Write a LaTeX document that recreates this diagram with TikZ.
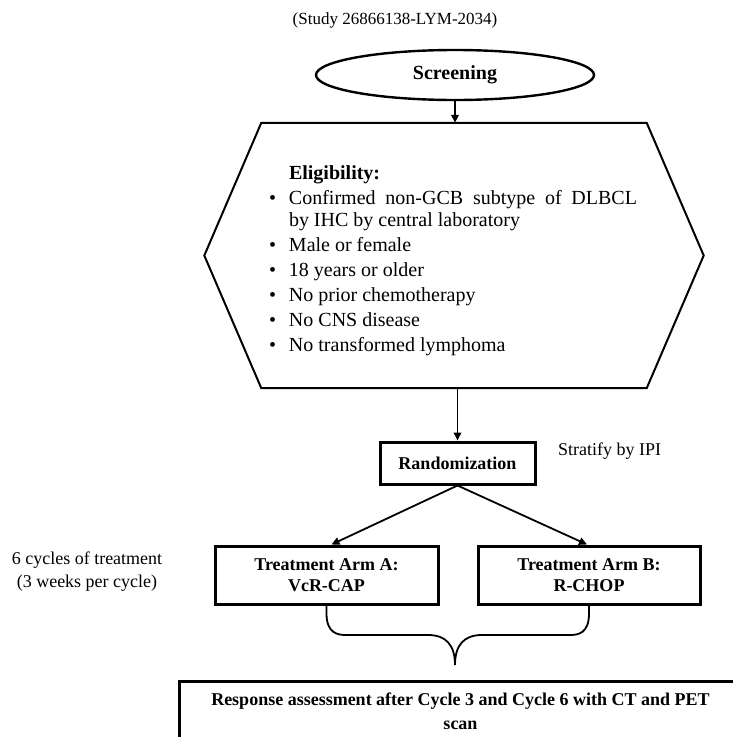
\documentclass[tikz,border=0pt]{standalone}
\usepackage{fontspec}
\setmainfont{Liberation Serif}
\usepackage{tikz}
\usetikzlibrary{positioning,arrows.meta,calc,shapes.geometric}
\newcommand{\eligitem}[1]{\par\noindent\hangindent=18pt\hangafter=1\makebox[18pt][l]{\hspace{-2pt}\textbullet}#1}

\begin{document}
\begin{tikzpicture}[x=1pt,y=-1pt,
  box/.style={draw,line width=3pt,inner sep=0pt,align=center,font=\fontsize{18}{21.5}\selectfont\bfseries},
  flow/.style={line width=1.8pt,-{Triangle[length=8pt,width=7.5pt]}},
  note/.style={inner sep=0pt,align=center,font=\fontsize{18}{23}\selectfont}]
\useasboundingbox (0,0) rectangle (732,737);
\node[inner sep=0pt,font=\fontsize{17}{20}\selectfont] (title) at (395,20) {(Study 26866138-LYM-2034)};
\node[ellipse,draw,line width=2.4pt,inner sep=0pt,minimum width=278pt,minimum height=50pt,font=\fontsize{20}{24}\selectfont\bfseries] (screen) at (455,75) {Screening};
\node[inner sep=0pt,minimum width=385pt,minimum height=265pt,text width=366pt,align=justify,font=\fontsize{20}{22}\selectfont] (elig) at (454,255.5) {%
  \setlength{\parskip}{3pt}%
  \hspace*{18pt}\rule{0pt}{24pt}\textbf{Eligibility:}
  \eligitem{Confirmed non-GCB subtype of DLBCL\linebreak by IHC by central laboratory}
  \eligitem{Male or female}
  \eligitem{18 years or older}
  \eligitem{No prior chemotherapy}
  \eligitem{No CNS disease}
  \eligitem{No transformed lymphoma}};
\draw[line width=2pt,line join=miter] (elig.north west) -- (elig.north east) -- ($(elig.east)+(57,0)$)
  -- (elig.south east) -- (elig.south west) -- ($(elig.west)+(-57,0)$) -- cycle;
\node[box,minimum width=155pt,minimum height=42pt] (rand) at (457.5,463) {Randomization};
\node[note,anchor=west] (strat) at (558,451) {Stratify by IPI};
\node[box,minimum width=223pt,minimum height=58pt] (armA) at (326.5,575) {Treatment Arm A:\\VcR-CAP};
\node[box,minimum width=222pt,minimum height=58pt] (armB) at (589,575) {Treatment Arm B:\\R-CHOP};
\node[note] (cycles) at (87,572) {6 cycles of treatment\\(3 weeks per cycle)};
\node[box,anchor=north west,minimum width=562pt,minimum height=60pt,font=\fontsize{18}{24}\selectfont\bfseries] (resp) at (178,680)
  {Response assessment after Cycle 3 and Cycle 6 with CT and PET\\scan};
\coordinate (tip) at (455,665);
\draw[flow] (screen.south) -- (screen.south |- elig.north);
\draw[flow] (elig.south -| rand.north) -- (rand.north);
\draw[flow] (rand.south) -- ($(armA.north)+(5,0)$);
\draw[flow] (rand.south) -- ($(armB.north)+(-2,0)$);
\draw[line width=1.8pt] (armA.south) -- ++(0,8) .. controls +(0,20) and +(-8,0) .. (346,635) -- (428,635)
  .. controls (446,635) and (455,645) .. (tip) .. controls (455,645) and (464,635) .. (482,635) -- (570,635)
  .. controls +(8,0) and +(0,20) .. ($(armB.south)+(0,8)$) -- (armB.south);
\end{tikzpicture}
\end{document}
